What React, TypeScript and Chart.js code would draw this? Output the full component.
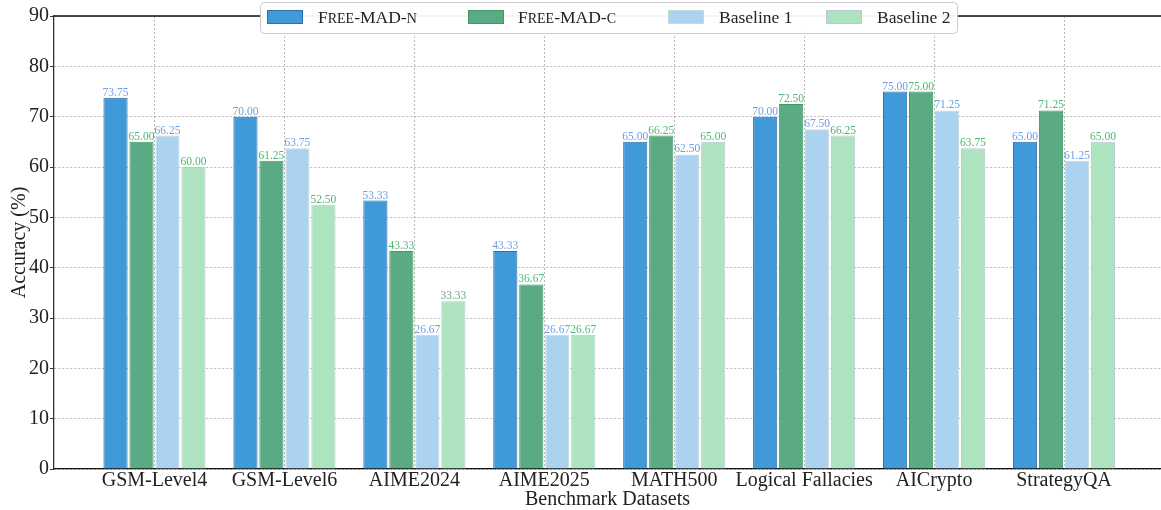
import React, { useEffect, useRef } from 'react';
import { Chart, registerables } from 'chart.js';

Chart.register(...registerables);

const categories = ['GSM-Level4', 'GSM-Level6', 'AIME2024', 'AIME2025', 'MATH500', 'Logical Fallacies', 'AICrypto', 'StrategyQA'];
const freeMadN = [73.75, 70.0, 53.33, 43.33, 65.0, 70.0, 75.0, 65.0];
const freeMadC = [65.0, 61.25, 43.33, 36.67, 66.25, 72.5, 75.0, 71.25];
const baseline1 = [66.25, 63.75, 26.67, 26.67, 62.5, 67.5, 71.25, 61.25];
const baseline2 = [60.0, 52.5, 33.33, 26.67, 65.0, 66.25, 63.75, 65.0];
const seriesNames = ['Free-MAD-n', 'Free-MAD-c', 'Baseline 1', 'Baseline 2'];
const smallCapsNames = [true, true, false, false];
const yMin = 0;
const yMax = 90;
const yStep = 10;
const xTitle = 'Benchmark Datasets';
const yTitle = 'Accuracy (%)';

const FONT = "'Liberation Serif', 'Times New Roman', serif";
const fills = ['#409ad9', '#5aab84', '#abd2ee', '#ade3bf'];
const borders = ['#2f6ea6', '#3f9a62', '#c3dcd6', '#b9c9d9'];
const labelColors = ['#6b9ee2', '#4fb574', '#6b9ee2', '#4fb574'];

const allValues = [freeMadN, freeMadC, baseline1, baseline2];

function drawSmallCaps(ctx: CanvasRenderingContext2D, text: string, x: number, y: number, size: number, smallCaps: boolean) {
  let cx = x;
  for (const ch of text) {
    const isLower = smallCaps && ch !== ch.toUpperCase();
    const s = isLower ? size * 0.8 : size;
    ctx.font = `${s}px ${FONT}`;
    const c = isLower ? ch.toUpperCase() : ch;
    ctx.fillText(c, cx, y);
    cx += ctx.measureText(c).width;
  }
}

const overlayPlugin = {
  id: 'overlay',
  afterDatasetsDraw(chart: any) {
    const ctx: CanvasRenderingContext2D = chart.ctx;
    const area = chart.chartArea;
    ctx.save();
    ctx.font = `11.5px ${FONT}`;
    ctx.textAlign = 'center';
    ctx.textBaseline = 'alphabetic';
    chart.data.datasets.forEach((ds: any, di: number) => {
      const meta = chart.getDatasetMeta(di);
      meta.data.forEach((bar: any, i: number) => {
        const v = ds.data[i].y as number;
        ctx.fillStyle = labelColors[di];
        ctx.fillText(v.toFixed(2), bar.x, bar.y - 2);
      });
    });
    ctx.restore();
    ctx.save();
    ctx.strokeStyle = '#111';
    ctx.lineWidth = 1.3;
    ctx.beginPath();
    ctx.moveTo(area.left, area.top);
    ctx.lineTo(area.right, area.top);
    ctx.stroke();
    ctx.restore();
  },
  afterDraw(chart: any) {
    const ctx: CanvasRenderingContext2D = chart.ctx;
    ctx.save();
    ctx.beginPath();
    (ctx as any).roundRect(260.5, 2.5, 697, 31, 4);
    ctx.fillStyle = 'rgba(255,255,255,0.95)';
    ctx.fill();
    ctx.strokeStyle = '#cccccc';
    ctx.lineWidth = 1;
    ctx.stroke();
    const swatchX = [267, 468, 668, 826];
    const textX = [318, 518, 719, 877];
    for (let i = 0; i < seriesNames.length; i++) {
      ctx.fillStyle = fills[i];
      ctx.fillRect(swatchX[i], 10, 36, 14);
      ctx.strokeStyle = borders[i];
      ctx.lineWidth = 1;
      ctx.strokeRect(swatchX[i] + 0.5, 10.5, 35, 13);
      ctx.fillStyle = '#222';
      ctx.textAlign = 'left';
      ctx.textBaseline = 'alphabetic';
      drawSmallCaps(ctx, seriesNames[i], textX[i], 23, 17.5, smallCapsNames[i]);
    }
    ctx.restore();
  },
};

export default function App() {
  const ref = useRef<HTMLCanvasElement>(null);
  useEffect(() => {
    document.body.style.margin = '0';
    const datasets = allValues.map((vals, di) => ({
      label: seriesNames[di],
      data: vals.map((v, i) => ({ x: i, y: v })),
      backgroundColor: fills[di],
      borderColor: borders[di],
      borderWidth: 1,
      categoryPercentage: 0.8,
      barPercentage: 0.93,
    }));
    const chart = new Chart(ref.current!, {
      type: 'bar',
      data: { datasets } as any,
      options: {
        animation: false,
        responsive: false,
        devicePixelRatio: 1,
        layout: { padding: { top: 16, left: 0, right: 0, bottom: 0 } },
        plugins: { legend: { display: false }, tooltip: { enabled: false } },
        scales: {
          x: {
            type: 'linear',
            min: -0.7735,
            max: 7.7465,
            offset: false,
            afterBuildTicks: (s: any) => {
              s.ticks = categories.map((_, i) => ({ value: i }));
            },
            afterFit: (s: any) => {
              s.height = 41;
            },
            ticks: {
              autoSkip: false,
              maxRotation: 0,
              includeBounds: false,
              padding: 0,
              color: '#222',
              font: { family: FONT, size: 20 },
              callback: (v: any) => categories[Math.round(Number(v))] ?? '',
            },
            grid: { color: '#a8a8a8', lineWidth: 0.8, drawTicks: false, offset: false },
            border: { display: true, color: '#111', width: 1.3, dash: [2, 2] },
            title: {
              display: true,
              text: xTitle,
              color: '#222',
              font: { family: FONT, size: 20, lineHeight: 1 },
              padding: { top: 0, bottom: 0 },
            },
          },
          y: {
            min: yMin,
            max: yMax,
            afterFit: (s: any) => {
              s.width = 54;
            },
            ticks: {
              stepSize: yStep,
              padding: 1,
              color: '#222',
              font: { family: FONT, size: 20 },
            },
            grid: {
              color: '#a8a8a8',
              lineWidth: 0.8,
              drawTicks: true,
              tickLength: 4,
              tickColor: '#333',
              tickWidth: 1,
              tickBorderDash: [],
            },
            border: { display: true, color: '#333', width: 1.3, dash: [2, 2] },
            title: {
              display: true,
              text: yTitle,
              color: '#222',
              font: { family: FONT, size: 20 },
              padding: { top: 8, bottom: 0 },
            },
          },
        },
      } as any,
      plugins: [overlayPlugin],
    });
    return () => chart.destroy();
  }, []);
  return (
    <div style={{ width: 1161, height: 510 }}>
      <canvas ref={ref} width={1161} height={510} style={{ display: 'block' }} />
    </div>
  );
}
